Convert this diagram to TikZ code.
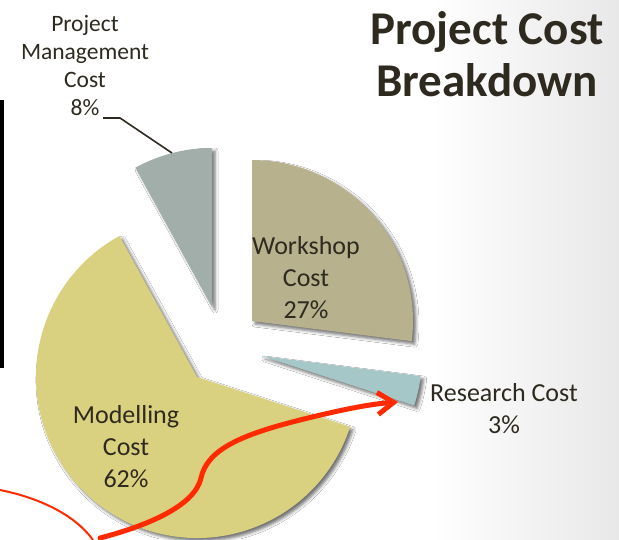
\documentclass[tikz,border=0pt]{standalone}
\usepackage{fontspec}
\setmainfont{Carlito}
\usetikzlibrary{shadows.blur,arrows.meta}
\definecolor{txt}{HTML}{2E2A1F}
\definecolor{wscol}{HTML}{B8B18D}
\definecolor{pmcol}{HTML}{A1AEA9}
\definecolor{mocol}{HTML}{D9D17F}
\definecolor{recol}{HTML}{A6C7C7}
\definecolor{redink}{HTML}{FF2A00}
\tikzset{
  slice/.style={blur shadow={shadow xshift=3pt,shadow yshift=-3pt,shadow blur radius=3pt,shadow opacity=55}},
  lbl/.style={align=center,inner sep=0pt,text=txt,font=\fontsize{26}{32}\selectfont},
  pmlbl/.style={align=center,inner sep=0pt,text=txt,font=\fontsize{23.5}{27.7}\selectfont},
  titlestyle/.style={align=center,inner sep=0pt,text=txt,font=\bfseries\fontsize{47}{52}\selectfont},
  redthick/.style={draw=redink,line width=5pt,line cap=round},
  redthin/.style={draw=redink,line width=2pt}
}
\begin{document}
\begin{tikzpicture}[x=1pt,y=-1pt]
\useasboundingbox (0,0) rectangle (619,539);
\fill[white] (0,0) rectangle (619,539);
\shade[left color=white,right color=black!9] (430,0) rectangle (619,539);
% black bar
\fill[black] (0,100) rectangle (4,368);
% slices
\fill[wscol,slice] (252,321) -- ++(-90:161) arc[start angle=-90,end angle=7.2,radius=161] -- cycle;
\fill[recol,slice] (262,356) -- ++(7.2:160) arc[start angle=7.2,end angle=18,radius=160] -- cycle;
\fill[mocol,slice] (197,377) -- ++(18:161) arc[start angle=18,end angle=241.2,radius=161] -- cycle;
\fill[pmcol,slice] (212,307) -- ++(241.2:159) arc[start angle=241.2,end angle=270,radius=159] -- cycle;
% title
\node[titlestyle] (title) at (487,54.5) {Project Cost\\Breakdown};
% labels
\node[lbl] (wslabel) at (306,278) {Workshop\\Cost\\27\%};
\node[lbl] (molabel) at (126,446.5) {Modelling\\Cost\\62\%};
\node[lbl] (relabel) at (504,409) {Research Cost\\3\%};
\node[pmlbl] (pmlabel) at (85,65.5) {Project\\Management\\Cost\\8\%};
% leader line
\coordinate (pmstart) at (103,118);
\coordinate (pmbend) at (120,118);
\coordinate (pmtip) at (172,153);
\draw[txt,line width=1.6pt] (pmstart) -- (pmbend) -- (pmtip);
% red annotations
\coordinate (thinstart) at (0,490);
\coordinate (thinend) at (93,540);
\draw[redthin] (thinstart) .. controls (40,498) and (75,515) .. (thinend);
\coordinate (arrstart) at (100,538);
\coordinate (arrmid) at (201,478);
\coordinate (arrtip) at (398,402);
\draw[redthick,-{Straight Barb[length=16pt,width=22pt]}] (arrstart) .. controls (150,525) and (195,505) .. (arrmid) .. controls (207,450) and (240,435) .. (300,420) .. controls (340,410) and (370,404) .. (arrtip);
\end{tikzpicture}
\end{document}
